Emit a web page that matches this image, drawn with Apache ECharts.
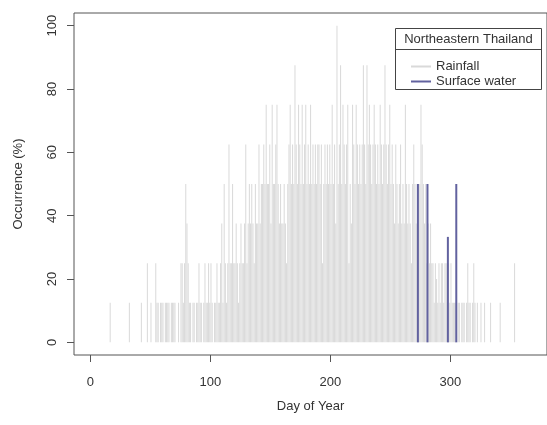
<!DOCTYPE html>
<html>
<head>
<meta charset="utf-8">
<script src="https://cdn.jsdelivr.net/npm/echarts@6/dist/echarts.min.js"></script>
<style>
html,body{margin:0;padding:0;background:#fff;}
#chart{width:547px;height:425px;}
</style>
</head>
<body>
<div id="chart"></div>
<script>
// Rainfall occurrence (%) for day of year 1..365
const rainfall = [
  0,0,0,0,0,0,0,0,0,0,
  0,0,0,0,0,0,12.5,0,0,0,
  0,0,0,0,0,0,0,0,0,0,
  0,0,12.5,0,0,0,0,0,0,0,
  0,0,12.5,0,0,0,0,25,0,0,
  12.5,0,0,0,25,12.5,12.5,0,12.5,12.5,
  12.5,0,12.5,12.5,12.5,12.5,0,12.5,12.5,12.5,
  12.5,0,0,12.5,0,25,25,12.5,25,50,
  37.5,25,12.5,12.5,0,12.5,12.5,0,12.5,12.5,
  25,12.5,12.5,0,12.5,25,12.5,12.5,25,12.5,
  25,12.5,0,12.5,12.5,25,12.5,12.5,25,37.5,
  12.5,50,25,12.5,25,62.5,25,25,50,25,
  25,37.5,25,12.5,25,37.5,25,25,37.5,62.5,
  25,37.5,50,37.5,50,37.5,25,50,37.5,37.5,
  62.5,37.5,50,50,62.5,50,75,50,50,62.5,
  37.5,75,50,50,62.5,75,50,37.5,50,37.5,
  37.5,50,37.5,25,50,62.5,75,50,62.5,50,
  87.5,62.5,50,75,62.5,50,75,50,62.5,75,
  50,62.5,50,75,50,62.5,50,62.5,50,62.5,
  62.5,50,62.5,25,50,62.5,50,62.5,50,62.5,
  50,75,50,62.5,37.5,100,50,62.5,87.5,50,
  75,62.5,50,62.5,75,25,50,37.5,75,62.5,
  50,75,62.5,50,62.5,50,62.5,87.5,62.5,50,
  87.5,62.5,75,62.5,50,62.5,75,62.5,50,62.5,
  50,75,62.5,50,62.5,87.5,62.5,50,62.5,75,
  50,62.5,50,37.5,62.5,50,37.5,50,62.5,37.5,
  50,37.5,75,50,37.5,50,37.5,25,50,62.5,
  50,37.5,50,50,50,75,62.5,50,37.5,50,
  25,37.5,25,37.5,25,25,12.5,25,20,12.5,
  25,12.5,25,25,12.5,25,25,12.5,25,12.5,
  25,12.5,12.5,12.5,12.5,0,12.5,12.5,0,12.5,
  12.5,12.5,0,12.5,25,12.5,12.5,0,12.5,25,
  12.5,0,12.5,0,0,12.5,0,0,12.5,0,
  0,0,0,12.5,0,0,0,0,0,0,
  0,12.5,0,0,0,0,0,0,0,0,
  0,0,0,25,0,0,0,0,0,0,
  0,0,0,0,0
];
// Surface water occurrence (%)
const waterDays = [273, 281, 298, 305];
const waterValues = [50, 50, 33.3, 50];
// Tick labels
const xTicks = [0, 100, 200, 300];
const yTicks = [0, 20, 40, 60, 80, 100];

const rainData = rainfall.map((v, i) => [i + 1, v]).filter(d => d[1] > 0);
const waterData = waterDays.map((d, i) => [d, waterValues[i]]);

const FONT = "'Liberation Sans', Arial, Helvetica, sans-serif";
const chart = echarts.init(document.getElementById('chart'), null, {renderer: 'canvas'});
chart.setOption({
  animation: false,
  backgroundColor: '#fff',
  textStyle: {fontFamily: FONT},
  grid: {
    left: 74, right: 0, top: 13, height: 342,
    show: true, borderColor: '#555', borderWidth: 1, backgroundColor: 'transparent'
  },
  xAxis: {
    type: 'value', min: -13.56, max: 380.6,
    name: 'Day of Year', nameLocation: 'middle', nameGap: 45,
    nameTextStyle: {fontSize: 13, color: '#333', fontFamily: FONT},
    axisLine: {show: false, onZero: false},
    axisTick: {show: true, inside: false, length: 7, lineStyle: {color: '#555'}, customValues: xTicks},
    axisLabel: {show: true, margin: 21, fontSize: 13, color: '#333', fontFamily: FONT, customValues: xTicks},
    splitLine: {show: false}
  },
  yAxis: {
    type: 'value', min: -4, max: 104,
    name: 'Occurrence (%)', nameLocation: 'middle', nameGap: 49,
    nameTextStyle: {fontSize: 13, color: '#333', fontFamily: FONT},
    axisLine: {show: false, onZero: false},
    axisTick: {show: true, inside: false, length: 7, lineStyle: {color: '#555'}, customValues: yTicks},
    axisLabel: {show: true, rotate: 90, margin: 15, fontSize: 13, color: '#333', fontFamily: FONT, customValues: yTicks},
    splitLine: {show: false}
  },
  legend: {
    left: 406, top: 55, orient: 'vertical',
    itemWidth: 20, itemHeight: 2, itemGap: 2, icon: 'rect', z: 10,
    textStyle: {fontSize: 13, color: '#333', fontFamily: FONT},
    data: ['Rainfall', 'Surface water']
  },
  graphic: {
    elements: [
      {type: 'rect', z: 5, shape: {x: 395.5, y: 28.5, width: 146, height: 61},
       style: {fill: '#fff', stroke: '#444', lineWidth: 1}},
      {type: 'line', z: 6, shape: {x1: 395.5, y1: 49.5, x2: 541.5, y2: 49.5},
       style: {stroke: '#444', lineWidth: 1}},
      {type: 'text', z: 6, x: 468.5, y: 39,
       style: {text: 'Northeastern Thailand', fontSize: 13, fontFamily: FONT, fill: '#333', align: 'center', verticalAlign: 'middle'}}
    ]
  },
  series: [
    {
      name: 'Rainfall', type: 'bar', data: rainData, barWidth: 1,
      itemStyle: {color: '#d9d9d9'}, z: 2
    },
    {
      name: 'Surface water', type: 'bar', data: waterData, barWidth: 2, barGap: '-100%',
      itemStyle: {color: '#62629f'}, z: 3
    }
  ]
});
</script>
</body>
</html>
